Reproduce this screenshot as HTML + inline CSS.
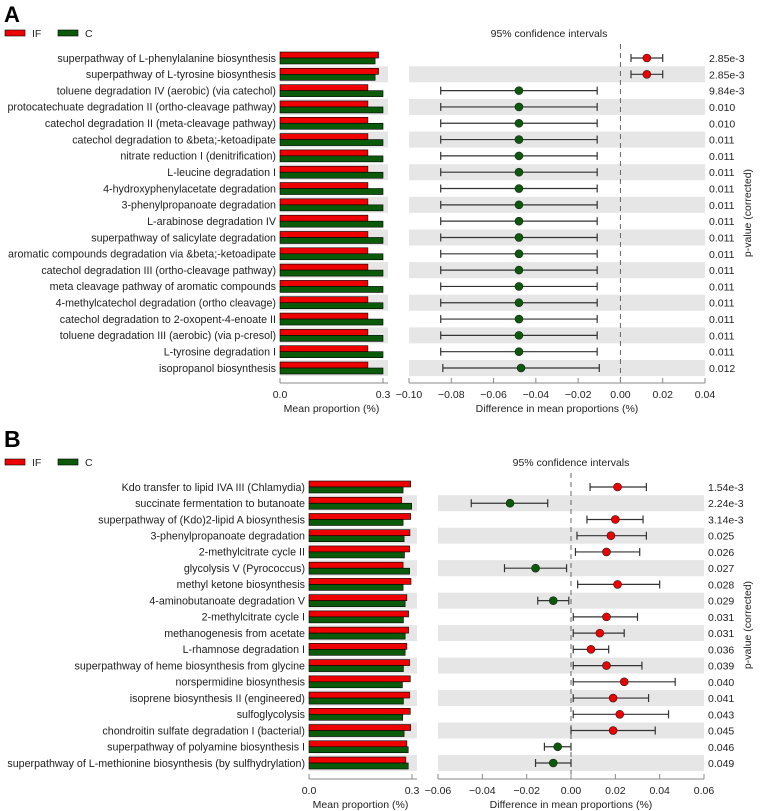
<!DOCTYPE html>
<html><head><meta charset="utf-8"><style>
body{margin:0;background:#fff;}
svg{display:block;font-family:"Liberation Sans","DejaVu Sans",sans-serif;}
</style></head><body>
<svg id="fig" width="761" height="811" viewBox="0 0 761 811" xmlns="http://www.w3.org/2000/svg"></svg>
<script>
// ---- Panel A data ----
const catsA = ["superpathway of L-phenylalanine biosynthesis","superpathway of L-tyrosine biosynthesis","toluene degradation IV (aerobic) (via catechol)","protocatechuate degradation II (ortho-cleavage pathway)","catechol degradation II (meta-cleavage pathway)","catechol degradation to &beta;-ketoadipate","nitrate reduction I (denitrification)","L-leucine degradation I","4-hydroxyphenylacetate degradation","3-phenylpropanoate degradation","L-arabinose degradation IV","superpathway of salicylate degradation","aromatic compounds degradation via &beta;-ketoadipate","catechol degradation III (ortho-cleavage pathway)","meta cleavage pathway of aromatic compounds","4-methylcatechol degradation (ortho cleavage)","catechol degradation to 2-oxopent-4-enoate II","toluene degradation III (aerobic) (via p-cresol)","L-tyrosine degradation I","isopropanol biosynthesis"];
const ifA = [0.287,0.287,0.256,0.256,0.256,0.256,0.256,0.256,0.256,0.256,0.256,0.256,0.256,0.256,0.256,0.256,0.256,0.256,0.256,0.256];
const cA = [0.277,0.277,0.300,0.300,0.300,0.300,0.300,0.300,0.300,0.300,0.300,0.300,0.300,0.300,0.300,0.300,0.300,0.300,0.300,0.300];
const diffA = [0.0125,0.0125,-0.048,-0.048,-0.048,-0.048,-0.048,-0.048,-0.048,-0.048,-0.048,-0.048,-0.048,-0.048,-0.048,-0.048,-0.048,-0.048,-0.048,-0.047];
const loA = [0.005,0.005,-0.085,-0.085,-0.085,-0.085,-0.085,-0.085,-0.085,-0.085,-0.085,-0.085,-0.085,-0.085,-0.085,-0.085,-0.085,-0.085,-0.085,-0.084];
const hiA = [0.020,0.020,-0.011,-0.011,-0.011,-0.011,-0.011,-0.011,-0.011,-0.011,-0.011,-0.011,-0.011,-0.011,-0.011,-0.011,-0.011,-0.011,-0.011,-0.010];
const pA = ["2.85e-3","2.85e-3","9.84e-3","0.010","0.010","0.011","0.011","0.011","0.011","0.011","0.011","0.011","0.011","0.011","0.011","0.011","0.011","0.011","0.011","0.012"];
const ticksA = [-0.10,-0.08,-0.06,-0.04,-0.02,0.00,0.02,0.04];
const tickLabA = ["\u22120.10","\u22120.08","\u22120.06","\u22120.04","\u22120.02","0.00","0.02","0.04"];
// ---- Panel B data ----
const catsB = ["Kdo transfer to lipid IVA III (Chlamydia)","succinate fermentation to butanoate","superpathway of (Kdo)2-lipid A biosynthesis","3-phenylpropanoate degradation","2-methylcitrate cycle II","glycolysis V (Pyrococcus)","methyl ketone biosynthesis","4-aminobutanoate degradation V","2-methylcitrate cycle I","methanogenesis from acetate","L-rhamnose degradation I","superpathway of heme biosynthesis from glycine","norspermidine biosynthesis","isoprene biosynthesis II (engineered)","sulfoglycolysis","chondroitin sulfate degradation I (bacterial)","superpathway of polyamine biosynthesis I","superpathway of L-methionine biosynthesis (by sulfhydrylation)"];
const ifB = [0.296,0.270,0.296,0.294,0.293,0.274,0.297,0.285,0.290,0.290,0.285,0.293,0.295,0.293,0.295,0.296,0.285,0.282];
const cB = [0.274,0.299,0.274,0.277,0.278,0.293,0.274,0.280,0.275,0.280,0.280,0.275,0.272,0.275,0.273,0.277,0.289,0.289];
const diffB = [0.021,-0.0275,0.020,0.018,0.016,-0.016,0.021,-0.008,0.016,0.013,0.009,0.016,0.024,0.019,0.022,0.019,-0.006,-0.008];
const loB = [0.0086,-0.045,0.0072,0.0027,0.002,-0.030,0.003,-0.015,0.001,0.001,0.001,0.001,0.001,0.001,0.001,0.000,-0.012,-0.016];
const hiB = [0.034,-0.0105,0.0325,0.034,0.031,-0.002,0.040,-0.001,0.030,0.024,0.017,0.032,0.047,0.035,0.044,0.038,0.000,0.000];
const pB = ["1.54e-3","2.24e-3","3.14e-3","0.025","0.026","0.027","0.028","0.029","0.031","0.031","0.036","0.039","0.040","0.041","0.043","0.045","0.046","0.049"];
const ticksB = [-0.06,-0.04,-0.02,0.00,0.02,0.04,0.06];
const tickLabB = ["\u22120.06","\u22120.04","\u22120.02","0.00","0.02","0.04","0.06"];

const svg = document.getElementById('fig');
const NS = "http://www.w3.org/2000/svg";
function mk(tag, attrs, parent){
  const e = document.createElementNS(NS, tag);
  for (const k in attrs) e.setAttribute(k, attrs[k]);
  (parent||svg).appendChild(e);
  return e;
}
function txt(str, attrs, parent){
  const t = mk('text', attrs, parent);
  t.textContent = str;
  return t;
}

function panel(o){
  const g = mk('g', {});
  
  
  const n = o.cats.length;
  const yRow = i => o.y0 + i*(o.y1-o.y0)/(n-1);
  const xBar = v => o.bx0 + v/0.3*(o.bx1-o.bx0);
  const xCI = v => o.cx0 + (v-o.dmin)/(o.dmax-o.dmin)*(o.cx1-o.cx0);
  const bandH = 16;
  const L = txt(o.letter, {x:4, y:o.letterY, 'font-size':o.letterSize, 'font-weight':'bold', fill:'#000'}, g);
  
  
  const lg = mk('g', {}, g);
  
  
  mk('rect', {x:5, y:o.legY-3, width:20, height:6, fill:'#e00', stroke:'#000', 'stroke-width':0.6}, lg);
  txt('IF', {x:32, y:o.legY+4, 'font-size':10.5, fill:'#222'}, lg);
  mk('rect', {x:58, y:o.legY-3, width:20, height:6, fill:'#0a5a0a', stroke:'#000', 'stroke-width':0.6}, lg);
  txt('C', {x:85, y:o.legY+4, 'font-size':10.5, fill:'#222'}, lg);
  const ct = txt('95% confidence intervals', {x:(o.cx0+o.cx1)/2+(o.ctOff||0), y:o.legY+4, 'font-size':10.5, 'text-anchor':'middle', fill:'#222'}, g);
  
  
  for (let i=0;i<n;i++){
    const y = yRow(i);
    if (i%2===1){
      const b1 = mk('rect', {x:o.bx0, y:y-bandH/2, width:o.bgEnd-o.bx0, height:bandH, fill:'#e6e6e6'}, g);
      
      
      const b2 = mk('rect', {x:o.cx0, y:y-bandH/2, width:o.cx1-o.cx0, height:bandH, fill:'#e6e6e6'}, g);
      
      
    }
    const lab = txt(o.cats[i], {x:o.bx0-4, y:y+3.8, 'font-size':10.7, 'text-anchor':'end', fill:'#222'}, g);
    
    
    const r1 = mk('rect', {x:xBar(0), y:y-6, width:xBar(o.ifv[i])-xBar(0), height:6, fill:'#e00', stroke:'#000', 'stroke-width':0.6}, g);
    
    
    const r2 = mk('rect', {x:xBar(0), y:y, width:xBar(o.cv[i])-xBar(0), height:6, fill:'#0a5a0a', stroke:'#000', 'stroke-width':0.6}, g);
    
    
    const pv = txt(o.p[i], {x:o.cx1+4, y:y+4, 'font-size':10.5, fill:'#222'}, g);
    
    
  }
  const zl = mk('line', {x1:xCI(0), x2:xCI(0), y1:o.y0-14, y2:o.axY, stroke:'#666', 'stroke-width':1, 'stroke-dasharray':'5,4'}, g);
  
  
  for (let i=0;i<n;i++){
    const y = yRow(i);
    const eg = mk('g', {}, g);
    
    
    mk('line', {x1:xCI(o.lo[i]), x2:xCI(o.hi[i]), y1:y, y2:y, stroke:'#333', 'stroke-width':1.2}, eg);
    mk('line', {x1:xCI(o.lo[i]), x2:xCI(o.lo[i]), y1:y-4, y2:y+4, stroke:'#333', 'stroke-width':1.2}, eg);
    mk('line', {x1:xCI(o.hi[i]), x2:xCI(o.hi[i]), y1:y-4, y2:y+4, stroke:'#333', 'stroke-width':1.2}, eg);
    const c = mk('circle', {cx:xCI(o.d[i]), cy:y, r:4, fill:o.d[i]>0?'#e00':'#0a5a0a', stroke:'#222', 'stroke-width':0.6}, g);
    
    
  }
  const ax1 = mk('g', {}, g);
  
  
  mk('line', {x1:o.bx0, x2:o.bgEnd, y1:o.axY, y2:o.axY, stroke:'#888', 'stroke-width':1}, ax1);
  [0, 0.3].forEach((v,k)=>{
    mk('line', {x1:xBar(v), x2:xBar(v), y1:o.axY-5, y2:o.axY, stroke:'#888'}, ax1);
    txt(k===0?'0.0':'0.3', {x:xBar(v), y:o.axY+15, 'font-size':10.5, 'text-anchor':'middle', fill:'#222'}, ax1);
  });
  txt('Mean proportion (%)', {x:(o.bx0+o.bx1)/2, y:o.axY+29, 'font-size':10.5, 'text-anchor':'middle', fill:'#222'}, ax1);
  const ax2 = mk('g', {}, g);
  
  
  mk('line', {x1:o.cx0, x2:o.cx1, y1:o.axY, y2:o.axY, stroke:'#888', 'stroke-width':1}, ax2);
  o.ticks.forEach((v,k)=>{
    mk('line', {x1:xCI(v), x2:xCI(v), y1:o.axY-5, y2:o.axY, stroke:'#888'}, ax2);
    txt(o.tickLab[k], {x:xCI(v), y:o.axY+15, 'font-size':10.5, 'text-anchor':'middle', fill:'#222'}, ax2);
  });
  txt('Difference in mean proportions (%)', {x:(o.cx0+o.cx1)/2, y:o.axY+29, 'font-size':10.5, 'text-anchor':'middle', fill:'#222'}, ax2);
  const py = (o.y0+o.y1)/2;
  const pt = txt('p-value (corrected)', {x:751, y:py, 'font-size':10.5, 'text-anchor':'middle', fill:'#222', transform:'rotate(-90 751 '+py+')'}, g);
  
  
}

panel({name:'panel-a', letter:'A', letterY:22, letterSize:22, legY:33, cats:catsA, ifv:ifA, cv:cA, d:diffA, lo:loA, hi:hiA, p:pA,
  ticks:ticksA, tickLab:tickLabA, y0:58, y1:368, axY:383, bx0:280, bx1:383, bgEnd:388, cx0:409, cx1:705, dmin:-0.10, dmax:0.04, ctOff:-8});
panel({name:'panel-b', letter:'B', letterY:447, letterSize:23, legY:462, cats:catsB, ifv:ifB, cv:cB, d:diffB, lo:loB, hi:hiB, p:pB,
  ticks:ticksB, tickLab:tickLabB, y0:487, y1:763, axY:779, bx0:309, bx1:412, bgEnd:417, cx0:438, cx1:704, dmin:-0.06, dmax:0.06, ctOff:0});
</script>
</body></html>
